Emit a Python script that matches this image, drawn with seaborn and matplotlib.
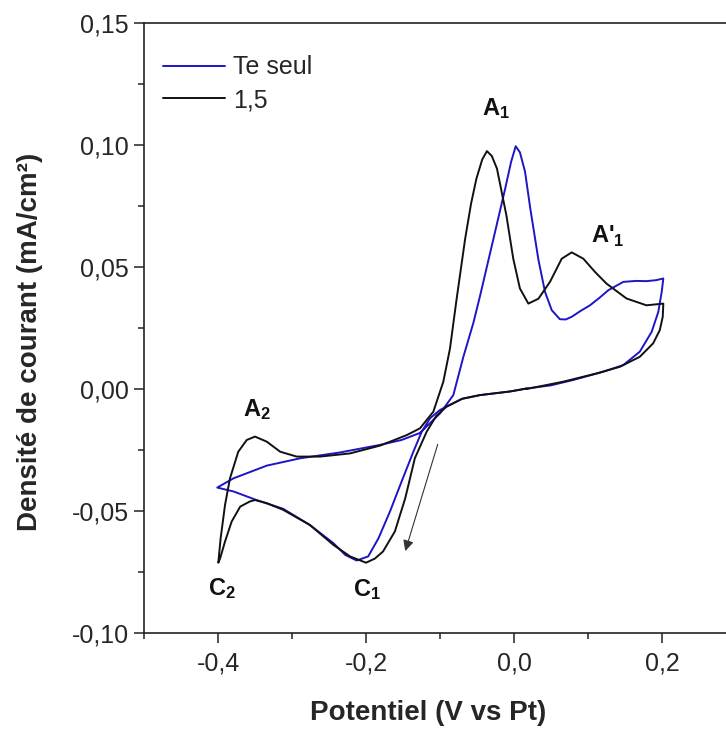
import numpy as np
import pandas as pd
import matplotlib
matplotlib.use("Agg")
import matplotlib.pyplot as plt
import seaborn as sns
from matplotlib.ticker import FuncFormatter, MultipleLocator

# Potential (V vs Pt) and current density (mA/cm2)
te_v = [0.017, -0.005, -0.046, -0.070, -0.091, -0.100, -0.1135, -0.1247, -0.136, -0.152,
        -0.1676, -0.183, -0.197, -0.2126, -0.228, -0.244, -0.276, -0.312, -0.348, -0.379, -0.401,
        -0.379, -0.334, -0.289, -0.235, -0.181, -0.152, -0.127, -0.100, -0.082, -0.0685,
        -0.055, -0.046, -0.0256, -0.012, -0.004, 0.0023, 0.008, 0.0149, 0.022, 0.033,
        0.0419, 0.051, 0.062, 0.070, 0.078, 0.090, 0.1027, 0.116, 0.1275, 0.1477, 0.165,
        0.179, 0.192, 0.2018,
        0.1996, 0.195, 0.186, 0.170, 0.1477, 0.1207, 0.080, 0.050, 0.017]
te_j = [0.0002, -0.001, -0.0025, -0.004, -0.0072, -0.0086, -0.012, -0.0175, -0.0257, -0.038,
        -0.0502, -0.0611, -0.0686, -0.0703, -0.068, -0.0632, -0.0557, -0.0491, -0.0455, -0.0420, -0.0404,
        -0.0366, -0.0314, -0.0284, -0.0260, -0.0229, -0.0209, -0.0180, -0.0100, -0.0025, 0.0131,
        0.027, 0.038, 0.0644, 0.082, 0.093, 0.0995, 0.097, 0.0891, 0.074, 0.053,
        0.0398, 0.0323, 0.0286, 0.0285, 0.0296, 0.032, 0.0343, 0.0375, 0.0405, 0.0439, 0.0443,
        0.0442, 0.0446, 0.0453,
        0.0398, 0.0316, 0.0234, 0.0153, 0.0098, 0.0071, 0.0037, 0.0015, 0.0002]

mix_v = [0.017, -0.005, -0.046, -0.070, -0.091, -0.105, -0.118, -0.134, -0.147, -0.161,
         -0.177, -0.188, -0.200, -0.2216, -0.244, -0.276, -0.312, -0.334, -0.350, -0.357,
         -0.370, -0.3815, -0.3905, -0.397, -0.3996,
         -0.3964, -0.3905, -0.3838, -0.3726, -0.3612, -0.350, -0.334, -0.316, -0.2936, -0.262,
         -0.2216, -0.181, -0.145, -0.127, -0.109, -0.0955, -0.0865, -0.0775, -0.066, -0.058,
         -0.0508, -0.043, -0.0366, -0.030, -0.023, -0.0103, -0.001, 0.008, 0.0194, 0.033,
         0.0486, 0.0645, 0.078, 0.0937, 0.110, 0.125, 0.152, 0.179, 0.2018,
         0.201, 0.197, 0.188, 0.170, 0.143, 0.112, 0.0666, 0.017]
mix_j = [0.0002, -0.001, -0.0025, -0.004, -0.0072, -0.011, -0.0175, -0.0284, -0.0448, -0.0584,
         -0.0666, -0.0695, -0.0712, -0.0686, -0.0639, -0.0557, -0.0495, -0.0468, -0.0455, -0.0461,
         -0.0482, -0.0543, -0.0625, -0.0693, -0.0712,
         -0.0611, -0.0475, -0.0366, -0.0257, -0.0209, -0.0195, -0.0216, -0.0257, -0.0277, -0.0277,
         -0.0264, -0.0232, -0.0189, -0.0161, -0.0093, 0.003, 0.0166, 0.037, 0.0616, 0.076,
         0.0862, 0.094, 0.0975, 0.0955, 0.0903, 0.0712, 0.0534, 0.0412, 0.035, 0.037,
         0.0439, 0.0534, 0.0560, 0.0534, 0.0478, 0.0432, 0.0371, 0.0343, 0.035,
         0.0296, 0.0241, 0.0187, 0.0132, 0.0091, 0.0064, 0.003, 0.0]

series_names = ["Te seul", "1,5"]
series_colors = ["#1e14c8", "#111111"]

peak_labels = [r"$\mathbf{A_1}$", r"$\mathbf{A}$'$_\mathbf{1}$", r"$\mathbf{A_2}$",
               r"$\mathbf{C_1}$", r"$\mathbf{C_2}$"]
peak_v = [-0.0245, 0.127, -0.3477, -0.199, -0.395]
peak_j = [0.1148, 0.0627, -0.0086, -0.0823, -0.0819]

# scan direction arrow (start, end)
arrow_v = [-0.102, -0.148]
arrow_j = [-0.0216, -0.0675]

x_ticks = [-0.4, -0.2, 0.0, 0.2]
y_ticks = [-0.10, -0.05, 0.00, 0.05, 0.10, 0.15]

df = pd.concat([
    pd.DataFrame({"E": te_v, "J": te_j, "serie": series_names[0]}),
    pd.DataFrame({"E": mix_v, "J": mix_j, "serie": series_names[1]}),
])

sns.set_theme(style="ticks")
plt.rcParams["font.family"] = ["Liberation Sans", "DejaVu Sans"]
plt.rcParams["mathtext.fontset"] = "custom"
plt.rcParams["mathtext.rm"] = "Liberation Sans"
plt.rcParams["mathtext.bf"] = "Liberation Sans:bold"

fig = plt.figure(figsize=(7.26, 7.35), dpi=100)
ax = fig.add_axes([144 / 726, 102 / 735, 592 / 726, 610 / 735])

sns.lineplot(data=df, x="E", y="J", hue="serie", hue_order=series_names,
             palette=series_colors, estimator=None, sort=False, units="serie",
             lw=1.4, ax=ax, legend=False)

for lab, xv, yv in zip(peak_labels, peak_v, peak_j):
    ax.text(xv, yv, lab, fontsize=17, fontweight="bold", ha="center", va="center", color="#111111")

ax.annotate("", xy=(arrow_v[1], arrow_j[1]), xytext=(arrow_v[0], arrow_j[0]),
            arrowprops=dict(arrowstyle="-|>", color="#333333", lw=0.8, mutation_scale=16))

ax.set_xlim(-0.5, 0.3)
ax.set_ylim(-0.10, 0.15)
ax.set_xticks(x_ticks)
ax.set_yticks(y_ticks)
ax.xaxis.set_minor_locator(MultipleLocator(0.1))
ax.yaxis.set_minor_locator(MultipleLocator(0.025))
ax.xaxis.set_major_formatter(FuncFormatter(lambda v, p: f"{v:.1f}".replace(".", ",").replace("-0,0", "0,0")))
ax.yaxis.set_major_formatter(FuncFormatter(lambda v, p: f"{v:.2f}".replace(".", ",").replace("-0,00", "0,00")))
ax.tick_params(which="major", direction="out", length=7, width=1.1, labelsize=18, color="#222222")
ax.tick_params(axis="x", which="major", pad=6)
ax.tick_params(axis="y", which="major", pad=4)
ax.tick_params(which="minor", direction="out", length=4.5, width=1.1, color="#222222")
for side in ["left", "bottom", "top"]:
    ax.spines[side].set_linewidth(1.2)
    ax.spines[side].set_color("#222222")
ax.spines["right"].set_visible(False)

ax.set_xlabel("Potentiel (V vs Pt)", fontsize=20, fontweight="bold")
ax.set_ylabel("Densité de courant (mA/cm²)", fontsize=20, fontweight="bold")
ax.xaxis.set_label_coords(0.48, -0.11)
ax.yaxis.set_label_coords(-0.17, 0.478)

handles = [plt.Line2D([], [], color=c, lw=1.4) for c in series_colors]
ax.legend(handles, series_names, loc="upper left", bbox_to_anchor=(0.032, 0.947),
          frameon=False, fontsize=18, handlelength=2.5, handletextpad=0.3,
          labelspacing=0.35, borderaxespad=0, borderpad=0)

fig.savefig("out.png", dpi=100)
